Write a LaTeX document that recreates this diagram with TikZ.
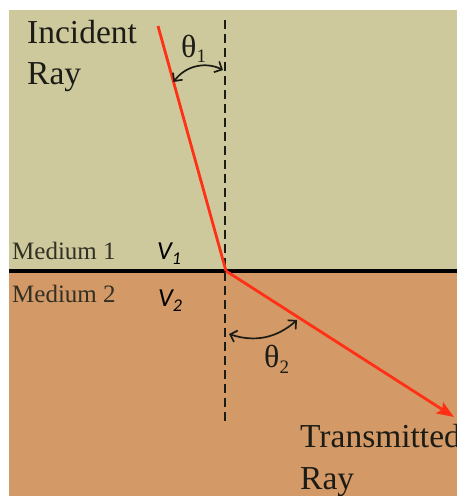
\documentclass[tikz,border=0pt]{standalone}
\usepackage{fontspec}
\setmainfont{Liberation Serif}
\newfontfamily\vfont{Carlito}
\usetikzlibrary{arrows.meta}

\definecolor{topbg}{RGB}{205,201,156}
\definecolor{botbg}{RGB}{211,153,102}
\definecolor{raycol}{RGB}{255,48,22}
\definecolor{ink}{RGB}{28,28,22}
\definecolor{medink}{RGB}{50,48,36}

\begin{document}
\begin{tikzpicture}[x=1pt,y=-1pt,
  lbl/.style={font=\fontsize{33.5}{36}\selectfont, text=ink, inner sep=0, anchor=base west},
  med/.style={font=\fontsize{25}{28}\selectfont, text=medink, inner sep=0, anchor=base west},
  vel/.style={font=\vfont\itshape\fontsize{26}{28}\selectfont, text=black, inner sep=0, anchor=base west},
  ang/.style={font=\fontsize{32}{34}\selectfont, text=ink, inner sep=0, anchor=base west},
  raystyle/.style={draw=raycol, line width=2.8pt},
  normalline/.style={draw=ink, line width=2pt, dash pattern=on 9pt off 5pt},
  anglearc/.style={draw=ink, line width=1.7pt,
    {Straight Barb[length=6pt,width=12pt]}-{Straight Barb[length=6pt,width=12pt]}},
]
\useasboundingbox (0,0) rectangle (457,496);
\fill[white] (0,0) rectangle (457,496);
\fill[topbg] (9,10) rectangle (457,271);
\fill[botbg] (9,271) rectangle (457,496);

% interface
\coordinate (ifl) at (9,271);
\coordinate (ifr) at (457,271);
\draw[black, line width=3.2pt] (ifl) -- (ifr);

% normal (dashed)
\coordinate (ntop) at (224.5,20);
\coordinate (nbot) at (224.5,425);
\draw[normalline] (ntop) -- (nbot);

% rays
\coordinate (src) at (158,26);
\coordinate (hit) at (226,271);
\coordinate (tip) at (454,417);
\draw[raystyle, line join=round] (src) -- (hit);
\draw[raystyle, -{Stealth[length=17pt,width=13pt,inset=3pt]}] (hit) -- (tip);

% angle arcs
\coordinate (a1s) at (173.5,82);
\coordinate (a1e) at (223,70);
\draw[anglearc] (a1s) to[bend left=40] (a1e);
\coordinate (a2s) at (229,334);
\coordinate (a2e) at (297,320);
\draw[anglearc] (a2s) to[bend right=30] (a2e);

% angle labels
\node[ang] (th1) at (181,57) {θ\raisebox{-0.16em}{\fontsize{19}{20}\selectfont 1}};
\node[ang] (th2) at (264,367) {θ\raisebox{-0.2em}{\fontsize{19}{20}\selectfont 2}};

% text labels
\node[lbl] (inc1) at (27,43) {Incident};
\node[lbl] (inc2) at (27,84) {Ray};
\node[lbl] (tr1) at (300,447) {Transmitted};
\node[lbl] (tr2) at (300,489) {Ray};

\node[med] (m1) at (12,259) {Medium 1};
\node[med] (m2) at (12,302) {Medium 2};
\node[vel] (v1) at (157,259) {V\raisebox{-0.2em}{\fontsize{18}{19}\selectfont 1}};
\node[vel] (v2) at (158,306) {V\raisebox{-0.2em}{\fontsize{18}{19}\selectfont 2}};
\end{tikzpicture}
\end{document}
